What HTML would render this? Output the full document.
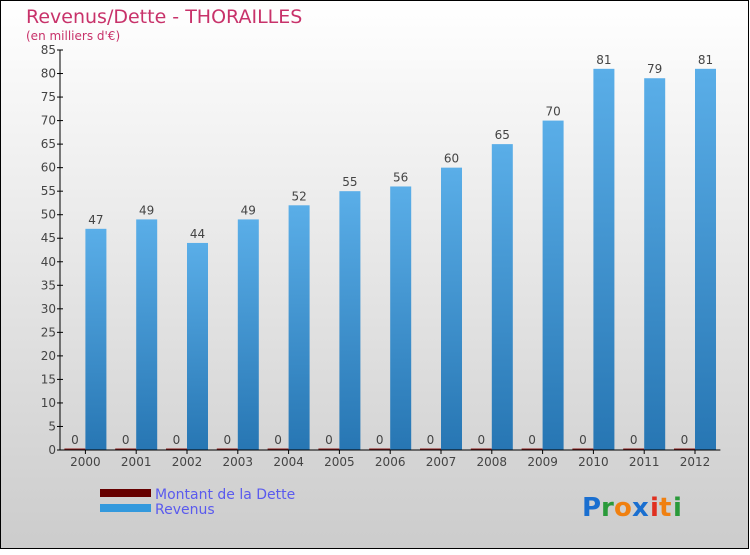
<!DOCTYPE html>
<html><head><meta charset="utf-8"><style>
body{margin:0;width:750px;height:550px;overflow:hidden}
svg text{font-family:"DejaVu Sans","Liberation Sans",sans-serif}
</style></head><body>
<svg width="750" height="550">
<defs>
<linearGradient id="bg" x1="0" y1="0" x2="0" y2="1"><stop offset="0" stop-color="#ffffff"/><stop offset="1" stop-color="#cccccc"/></linearGradient>
<linearGradient id="bar" x1="0" y1="0" x2="0" y2="1"><stop offset="0" stop-color="#5aaee8"/><stop offset="1" stop-color="#2776b3"/></linearGradient>
</defs>
<rect x="0.5" y="0.5" width="748" height="548" fill="url(#bg)" stroke="#000"/>
<text x="26" y="23" font-size="19" fill="#c8326a">Revenus/Dette - THORAILLES</text>
<text x="26" y="40" font-size="12" fill="#c8326a">(en milliers d'€)</text>
<g id="plot"></g>
<g>
<rect x="100" y="489" width="51" height="8" fill="#660000"/>
<text x="155" y="499" font-size="14" fill="#5a5aee">Montant de la Dette</text>
<rect x="100" y="504" width="51" height="8" fill="#3399dd"/>
<text x="155" y="514" font-size="14" fill="#5a5aee">Revenus</text>
</g>
<g font-size="26" font-weight="bold">
<text x="582" y="516" fill="#1a6fd0">P</text><text x="601" y="516" fill="#2a9a3a">r</text><text x="614" y="516" fill="#f08010">o</text><text x="632" y="516" fill="#1a6fd0">x</text><text x="650" y="516" fill="#e03020">i</text><text x="659" y="516" fill="#f08010">t</text><text x="673" y="516" fill="#2a9a3a">i</text>
</g>
</svg>
<script>
const years=["2000","2001","2002","2003","2004","2005","2006","2007","2008","2009","2010","2011","2012"];
const revenus=[47,49,44,49,52,55,56,60,65,70,81,79,81];
const dette=[0,0,0,0,0,0,0,0,0,0,0,0,0];
const yTicks=[0,5,10,15,20,25,30,35,40,45,50,55,60,65,70,75,80,85];
const NS="http://www.w3.org/2000/svg";
const g=document.getElementById('plot');
const x0=60,band=50.8,y0=450,yTop=50,yMax=85;
const y=v=>y0-(v/yMax)*(y0-yTop);
const xc=i=>x0+band*(i+0.5);
function mk(t,a,txt){const e=document.createElementNS(NS,t);for(const k in a)e.setAttribute(k,a[k]);if(txt!=null)e.textContent=txt;g.appendChild(e);return e;}
yTicks.forEach(v=>{
 const l=mk('line',{x1:x0-3,x2:x0+3,y1:y(v),y2:y(v),stroke:'#000'});
 
 
 const t=mk('text',{x:x0-4,y:y(v)+4,'font-size':12,fill:'#444','text-anchor':'end'},v);
 
 
});
years.forEach((yr,i)=>{
 const c=xc(i);
 const d=mk('rect',{x:c-21,y:y(dette[i])-1.5,width:21,height:(y0-y(dette[i]))+1.5,fill:'#8b1a1a'});
 
 
 const dl=mk('text',{x:c-10.5,y:y(dette[i])-6,'font-size':12,fill:'#444','text-anchor':'middle'},dette[i]);
 
 
 const b=mk('rect',{x:c,y:y(revenus[i]),width:21,height:y0-y(revenus[i]),fill:'url(#bar)'});
 
 
 const bl=mk('text',{x:c+10.5,y:y(revenus[i])-5,'font-size':12,fill:'#444','text-anchor':'middle'},revenus[i]);
 
 
 const tk=mk('line',{x1:c,x2:c,y1:y0,y2:y0+4,stroke:'#000'});
 
 
 const xl=mk('text',{x:c,y:y0+16,'font-size':12,fill:'#444','text-anchor':'middle'},yr);
 
 
});
const ya=mk('line',{x1:x0,x2:x0,y1:yTop,y2:y0,stroke:'#000'});


const xa=mk('line',{x1:x0,x2:x0+band*years.length,y1:y0,y2:y0,stroke:'#000'});


</script>
</body></html>
